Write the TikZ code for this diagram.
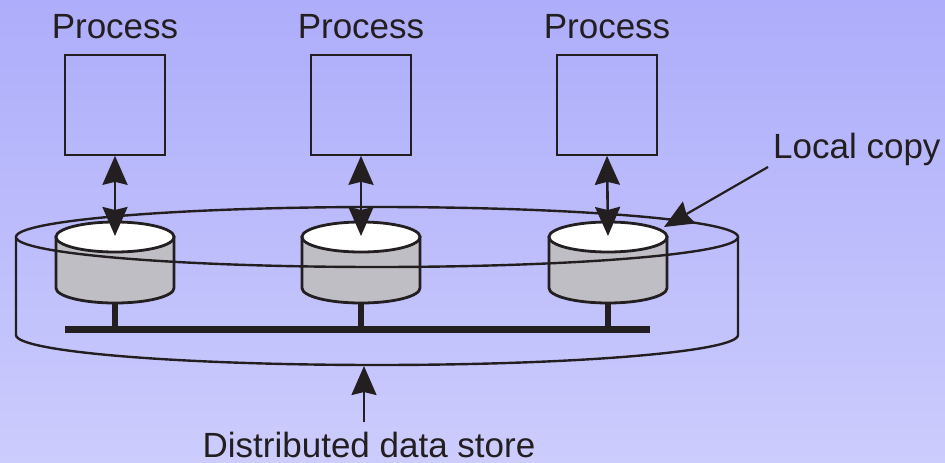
\documentclass[tikz,border=0pt]{standalone}
\usepackage{fontspec}
\setmainfont{Liberation Sans}
\usetikzlibrary{arrows.meta}
\definecolor{bgtop}{RGB}{173,173,251}
\definecolor{bgbot}{RGB}{204,204,253}
\definecolor{ink}{RGB}{35,31,32}
\definecolor{cylgray}{RGB}{190,190,196}
\tikzset{
  lbl/.style={font=\fontsize{35}{40}\selectfont, text=ink, inner sep=0pt, anchor=base},
  procbox/.style={draw=ink, line width=1.6pt, minimum width=100pt, minimum height=100pt, inner sep=0pt},
  bigarrow/.style={draw=ink, line width=2.2pt, -{Stealth[length=29pt, width=25pt, inset=3pt]}},
  dblarrow/.style={draw=ink, line width=2.6pt, {Stealth[length=29pt, width=25pt, inset=3pt]}-{Stealth[length=29pt, width=25pt, inset=3pt]}},
  outer/.style={draw=ink, line width=2.4pt},
  cyl/.style={draw=ink, line width=2.8pt},
}
\begin{document}
\begin{tikzpicture}[x=1pt,y=-1pt]
\shade[top color=bgtop, bottom color=bgbot] (0,0) rectangle (945,463);
\useasboundingbox (0,0) rectangle (945,463);

% process boxes and labels
\foreach \i/\cx in {1/115,2/361,3/607}{
  \node[procbox] (p\i) at (\cx,105) {};
  \node[lbl] (t\i) at (\cx,38) {Process};
}

% outer cylinder (sides and bottom)
\coordinate (oc) at (377,237);
\coordinate (ob) at (377,335);
\draw[outer] (16,237) -- (16,335) arc[start angle=180, end angle=360, x radius=361pt, y radius=30pt] -- (738,237);

% bus
\coordinate (busL) at (65,329.5);
\coordinate (busR) at (650,329.5);
\draw[ink, line width=7pt] (busL) -- (busR);

% small cylinders
\foreach \i/\cx in {1/115,2/361,3/608}{
  \coordinate (s\i) at (\cx,303);
  \coordinate (b\i) at (\cx,329.5);
  \draw[ink, line width=6pt] (s\i) -- (b\i);
  \filldraw[cyl, fill=cylgray] (\cx-59,237) -- (\cx-59,288) arc[start angle=180, end angle=360, x radius=59pt, y radius=15pt] -- (\cx+59,237) -- cycle;
  \filldraw[cyl, fill=white] (\cx,237) ellipse [x radius=59pt, y radius=15pt];
  \coordinate (c\i) at (\cx,236);
}

% outer top ellipse
\draw[outer] (oc) ellipse [x radius=361pt, y radius=30pt];

% double arrows
\foreach \i in {1,2,3}{
  \draw[dblarrow] (p\i.south) -- (c\i);
}

% local copy
\node[lbl, anchor=base west] (lc) at (773,158) {Local copy};
\coordinate (lcs) at (768,167);
\coordinate (lct) at (664,227);
\draw[bigarrow] (lcs) -- (lct);

% distributed data store
\node[lbl] (dds) at (369,457) {Distributed data store};
\coordinate (ddsS) at (364,422);
\coordinate (ddsT) at (364,366);
\draw[bigarrow] (ddsS) -- (ddsT);
\end{tikzpicture}
\end{document}
